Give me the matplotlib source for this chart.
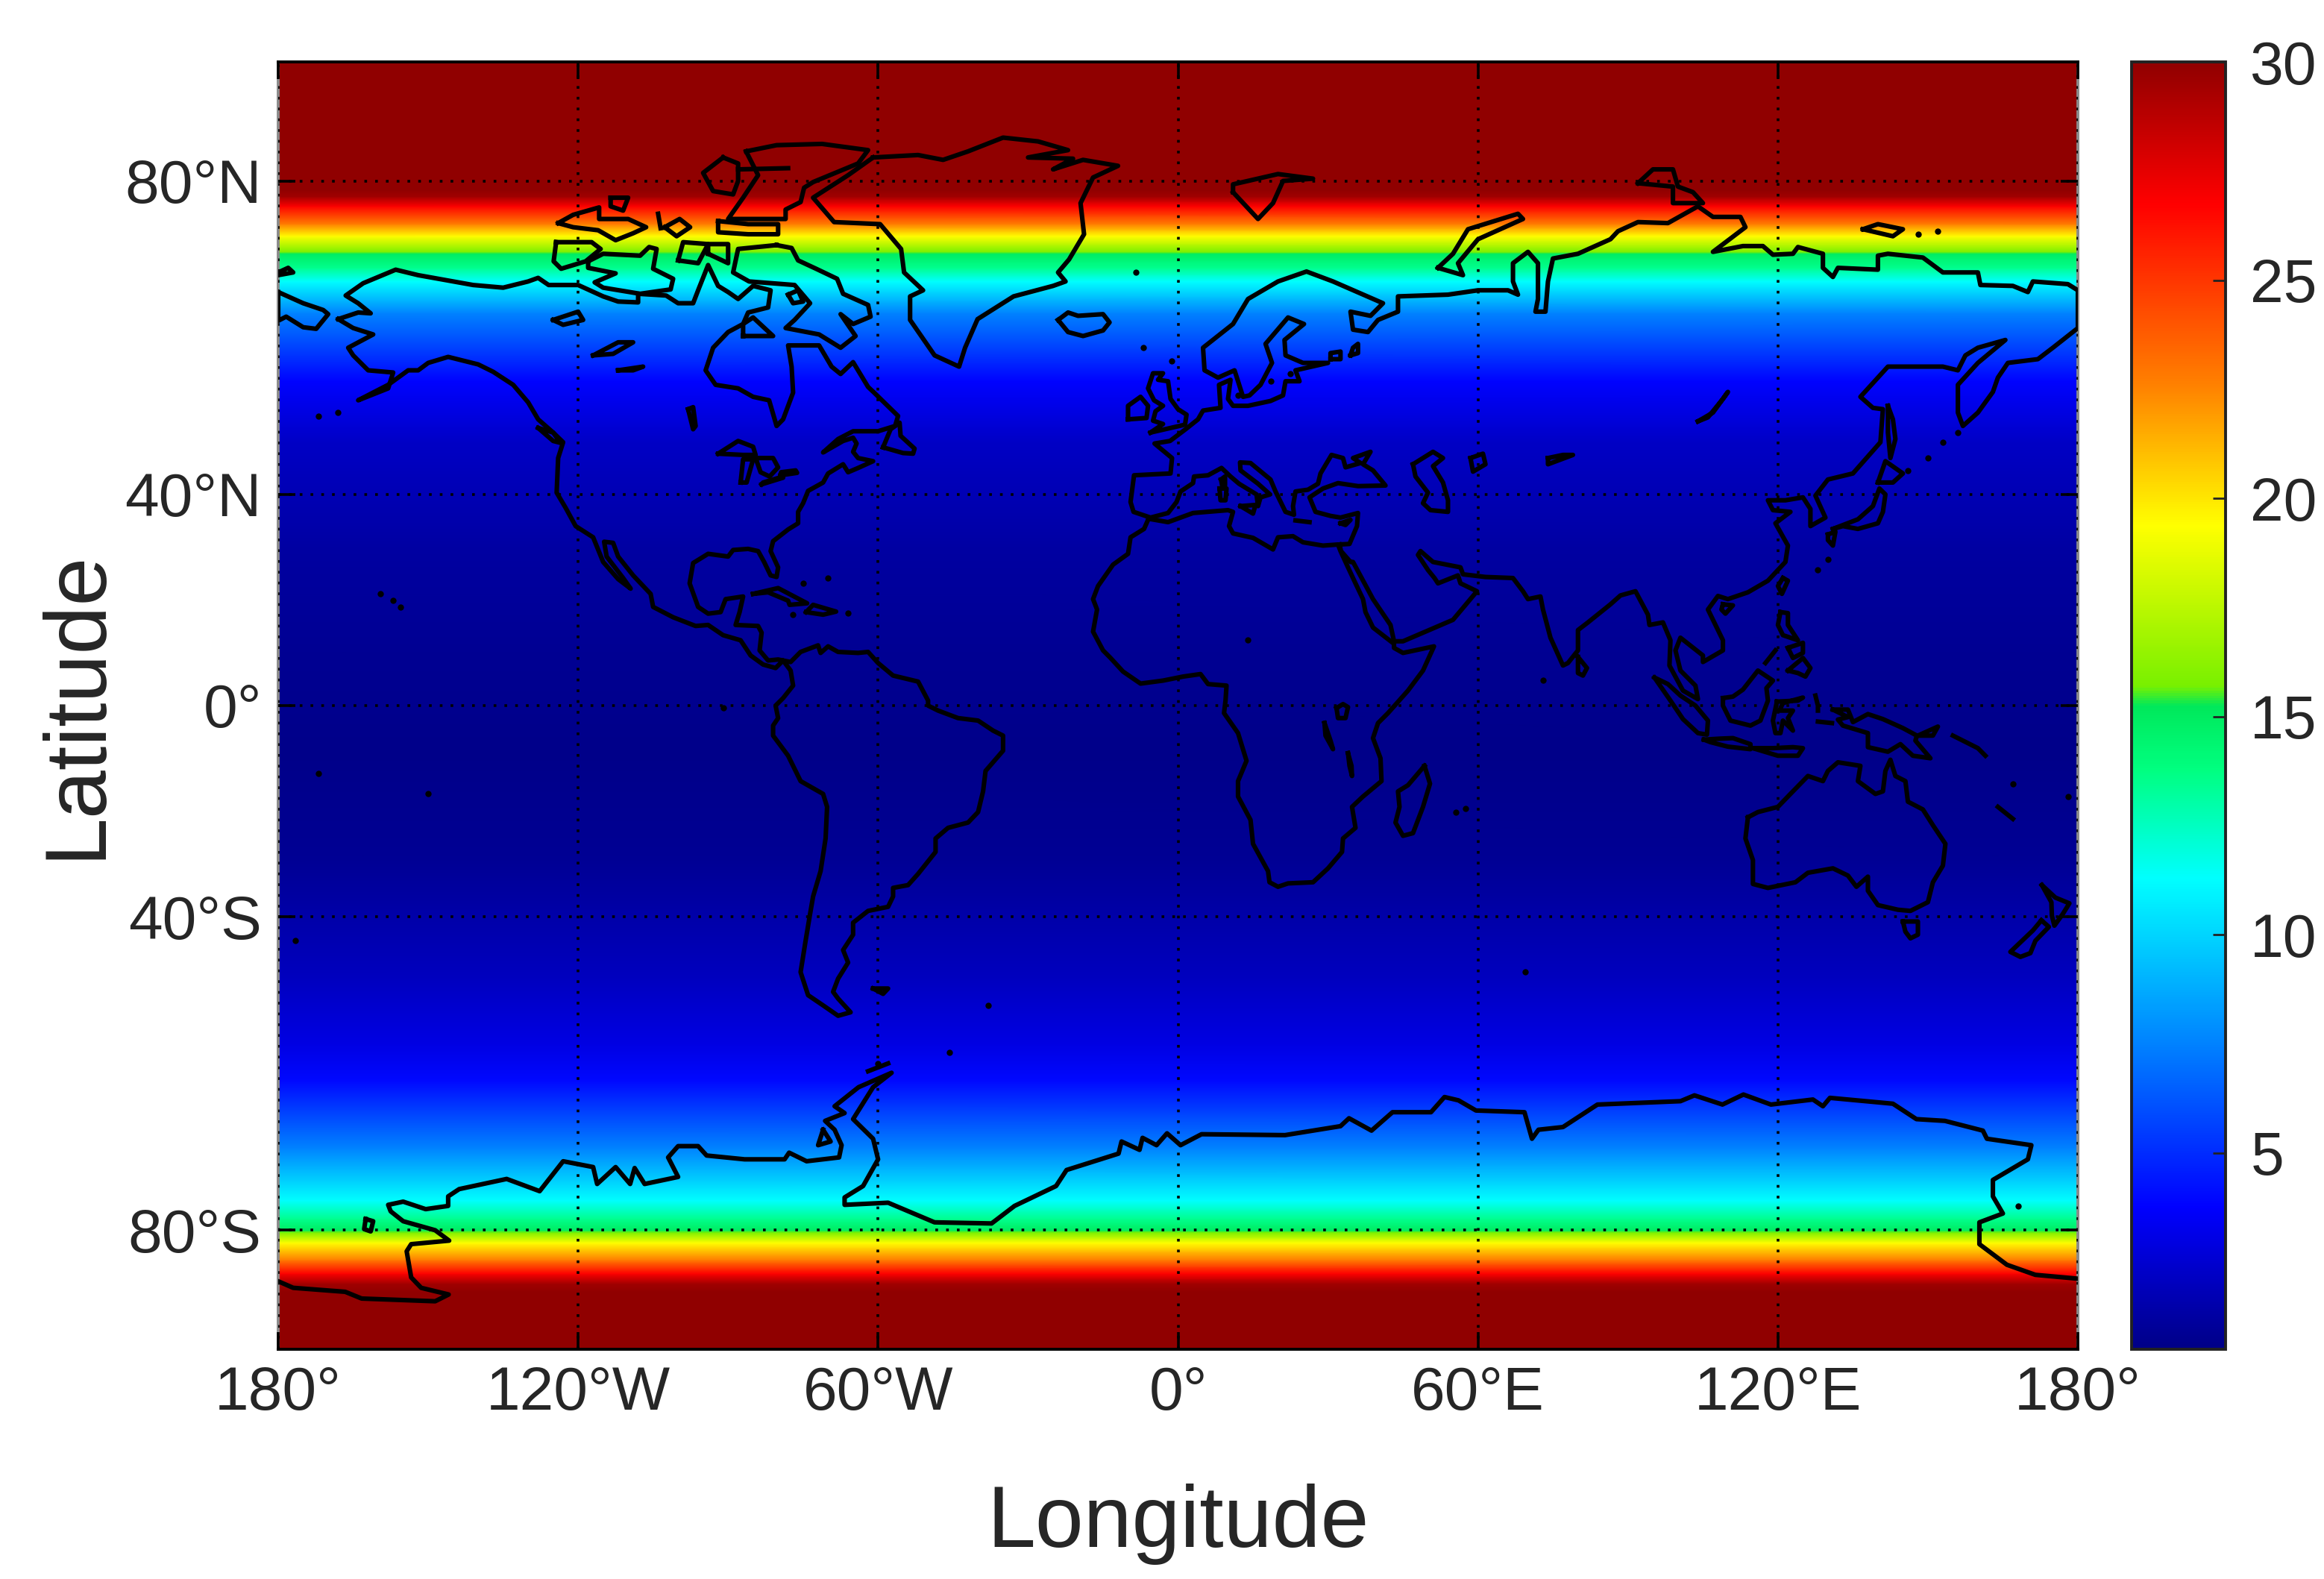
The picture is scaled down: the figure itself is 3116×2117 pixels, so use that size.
import numpy as np
import matplotlib
matplotlib.use('Agg')
import matplotlib.pyplot as plt
from matplotlib.colors import LinearSegmentedColormap

plt.rcParams['font.family'] = ['Liberation Sans', 'DejaVu Sans']

# value of the field against latitude
field_lat = [-89, -85, -84.4, -83.6, -82.5, -81.1, -80.2, -80.0, -79, -77.3, -72, -64.2, -59.5, -50, -30, -10,
             10, 30, 48.5, 57.5, 66.3, 70, 71.5, 73.0, 73.2, 74.8, 76, 77.7, 78.6, 79.2, 89]
field_val = [30, 30, 29.5, 26.8, 22.7, 19.4, 15.8, 15.0, 13.5, 11.3, 7.5, 4.0, 3.0, 2.0, 0.9, 0.6,
             0.8, 1.2, 2.2, 3.8, 7.5, 11.3, 13.5, 15.0, 15.8, 19.4, 22.7, 26.8, 29.5, 30, 30]

lon_ticks = [-180, -120, -60, 0, 60, 120, 180]
lon_labels = ['180°', '120°W', '60°W', '0°', '60°E', '120°E', '180°']
lat_ticks = [-80, -40, 0, 40, 80]
lat_labels = ['80°S', '40°S', '0°', '40°N', '80°N']
cbar_ticks = [5, 10, 15, 20, 25, 30]

americas = [(-168,65.6),(-164,66.4),(-161.5,66.3),(-164,67.5),(-166.5,68.4),(-163,69.8),(-156.5,71.3),(-152,70.7),
    (-146,70.1),(-141,69.6),(-135,69.3),(-130,70),(-128,70.4),(-125.9,69.6),(-120,69.6),(-115,68.3),(-112,67.7),(-108,67.6),
    (-108,68.6),(-102.4,68.4),(-100,67.5),(-97,67.5),(-96,69),(-94,71.8),(-92,69.5),(-90,68.8),(-88,68),(-85,69.5),(-81.5,69),(-82,67),
    (-86,66.4),(-87,65),(-90,64),(-93,62),(-94.5,59),(-92.5,57),(-88,56.5),(-85,55.3),(-81.8,54.8),(-80.3,51),(-79,52),(-77,55.9),
    (-77.3,59.5),(-78,62.3),(-71.8,62.3),(-69.3,59.5),(-67.5,58.5),(-65,60.1),(-62,56.7),(-60.8,55.9),(-56,52.5),(-56.6,51),
    (-60,50.2),(-65,50.2),(-68,49),(-71,46.9),(-67,48.7),(-65,49.2),
    (-64.3,48.3),(-65,47),(-64,46),(-61,45.5),(-64,44.4),(-66,43.7),(-67,45),(-70,43.5),(-71,42),(-74,40.6),(-75,38.5),
    (-76,37),(-76,35),(-78,33.9),(-81,31.8),(-81.5,30),(-80,27),(-80.3,25.2),(-81.5,25.5),(-82.8,28),(-84,30),(-86,30.4),
    (-89,30.2),(-90,29),(-94,29.5),(-97,27.8),(-97.7,24),(-96,19.5),(-94,18.2),(-91.5,18.5),(-90.5,21),(-87,21.5),
    (-87.7,18.5),(-88.5,16),(-84,15.8),(-83.3,14.5),(-83.7,11),(-82,9),(-80,9.2),(-77.5,8.7),(-75.5,10.7),(-72,12),
    (-71.5,10.5),(-70,11.8),(-68,10.7),(-64,10.5),(-62,10.7),(-60,8.5),(-57,6),(-52,4.8),(-50,1),(-50,0),(-48,-1),
    (-44,-2.5),(-40,-3),(-37,-5),(-35,-6),(-35,-9),(-38.5,-13),(-39,-17),(-40,-21),(-42,-23),(-46,-24),(-48.5,-26),
    (-48.5,-28.5),(-52,-32.5),(-54,-34.5),(-57,-35),(-57,-36.5),(-58,-38.3),(-62,-39),(-65,-41),(-65,-43),(-67,-45.5),
    (-66,-47.5),(-68,-50),(-69,-52),(-68,-53),(-65.5,-55),(-68,-55.5),(-71,-54),(-74,-52.5),(-75.5,-49),(-74.5,-44),
    (-73.7,-40),(-73,-36.5),(-71.5,-32),(-70.5,-26),(-70.2,-20),(-71,-17.5),(-75.5,-15),(-78,-10),(-81,-6),(-81,-4),
    (-80,-2.5),(-80.5,0),(-79,1.5),(-77,4),(-77.5,7),(-79,9),(-80.5,7.5),(-83,8.2),(-85.5,10),(-87.5,13),(-91,14),
    (-94,16),(-96.5,15.8),(-101,17.5),(-105,19.5),(-105.5,22),(-109,25.5),(-112,29),(-113,31.5),(-114.8,31.7),(-114.3,29),
    (-111,25),(-109.5,23),(-112,24.8),(-115,28),(-117,32.5),(-120.5,34.5),(-122.5,37.7),(-124.3,40.3),(-124,46),(-123,48.5),
    (-125,50),(-128,52),(-130,54.5),(-133,57),(-137,58.8),(-140,59.8),(-146,60.8),(-150,60),(-152,59),(-154,59),(-158,57),
    (-164,54.8),(-158,56.5),(-157,58.7),(-162,59),(-165,61),(-166,62),(-161,63.7),(-165,64.5),(-168,65.6)]

greenland = [(-61,82),(-52,82.2),(-47,81.8),(-42,82.5),(-35,83.6),(-28,83.3),(-22,82.6),(-30,82),(-21,81.9),(-25,81),
    (-19,81.8),(-12,81.3),(-17,80.3),(-19.5,78),(-18.8,75),(-21.8,72.4),(-24,71),(-22.5,70),(-25,69.5),(-32.9,68.3),
    (-40.1,65.6),(-42.6,62),(-43.8,59.5),(-48.7,61),(-53.6,65.5),(-53.6,68.3),(-51,69),(-54.8,71),(-55.4,73.5),(-59.6,76),
    (-68.8,76.2),(-73,78.5),(-66,80.5),(-61,82)]

africa = [(-5.9,35.8),(-2,35.2),(3,36.8),(10,37.3),(11,37),(10.2,34.5),(11,33.2),(15,32.4),(19,30.3),(20,32.5),(23,32.7),
    (25,31.6),(29,31),(32,31.2),(32.5,30),(34,27),(35.5,24),(37,21),(37.5,18.5),(39,15.5),(43.2,12.3),(43.2,11.5),
    (45,10.5),(51.2,11.8),(49,7),(46,3),(42,-1.5),(40,-3.5),(39,-6.5),(40.5,-10.5),(40.7,-15),(37,-18),(34.8,-20),
    (35.5,-24),(33,-26),(32.8,-28.5),(30,-31.5),(27,-34),(22,-34.2),(20,-34.8),(18.3,-34),(18,-32),(15,-27),(14.5,-22.5),
    (12,-18),(12,-15),(13.7,-11),(12,-5.5),(9.2,-1.5),(9.5,1),(9.7,4),(6,4.3),(4.5,6.3),(1,5.8),(-3,5),(-7.5,4.4),
    (-11,6.8),(-13.5,9.5),(-15,11),(-17,14.7),(-16.2,19),(-17,21),(-16,23.5),(-13,27.5),(-10,29.5),(-9.5,32.5),
    (-6.8,34),(-5.9,35.8)]

eurasia = [(32.3,31.2),(34.3,31.3),(35.8,34.5),(36,36.8),(32.5,36),(30.5,36.3),(27.5,37),(26.3,39.5),(29,41),(32,41.9),
    (36,41.4),(41.5,41.5),(39,44),(37,45),(38.5,47),(35,46),(36.5,45.2),(33.5,44.5),(33,46),(30.7,46.5),(28.5,43.5),
    (28,41.8),(26,40.8),(23.5,40.5),(23,38),(23.2,36.5),(21.5,37),(19.5,40.5),(18.5,42.5),(14.5,45.2),(12.4,45.3),
    (12.5,44),(16,41.8),(18.4,40),(16.5,39.5),(16,38),(15.7,40),(12.2,41.8),(10.5,43),(8.7,44.4),(6,43.2),(3.2,43),
    (3,41.9),(0.5,40.5),(-0.3,38.7),(-2,36.8),(-5.5,36),(-8.9,37),(-9.5,38.7),(-8.8,43.2),(-1.5,43.5),(-1.2,46),
    (-4.7,48.3),(-1.6,48.7),(1.5,50.5),(4,52),(5,53.3),(8.5,53.7),(8.2,57),(10.5,57.7),(10,55),(11,54),(14,54),
    (18.5,54.7),(21,55.5),(21.5,57.5),(24.3,57.5),(23.5,59),(30,60),(25,60),(21.5,61),(21.3,63),(25.2,65),(22,65.8),
    (17.5,62.5),(18.8,60),(16.5,57),(14.3,55.5),(13,55.3),(11.3,59),(8,58),(5.3,59),(5,62),(11,65),(14,68),(20,70),
    (25.7,71.1),(31,70),(41,67.5),(38.5,66),(34.5,66.5),(35,64.3),(38,64),(40,65.5),(44,66.5),(44,68.3),(54,68.5),
    (60,69),(66,69),(68,68.5),(67,70),(67,72),(70,73.2),(72,72),(72,68),(71.5,66.5),(73.5,66.5),(74,70),(75,72.5),
    (80,73),(86.5,74.5),(88,75.3),(92,76.2),(98,76.1),(104,77.7),(107,76.7),(112.5,76.7),(113.5,75.7),(107,73.2),
    (113,73.8),(117,73.8),(119,72.9),(123,73),(124,73.7),(129,73),(129,71.5),(131,70.5),(132,71.5),(140,71.3),(140,72.8),
    (142,73),(149,72.6),(153,71),(160,71),(160.5,69.6),(167,69.5),(170,68.8),(171,70),(178,69.7),(180,69),(180,64.5),
    (175,62),(172,60.5),(166,60),(164,58),(163,56),(160,53),(157,51),(156,53),(156,57),(160,60),(165.5,63),(160,62),
    (157.5,61),(156,59),(153,59.5),(142,59.5),(136.5,55.3),(139,53.7),(141,53.5),(140.5,48.5),(135,43.5),(130,42.5),
    (127.5,39.8),(129.5,36),(126.5,34.5),(126.5,37.5),(125,39.5),(121.5,39),(118,39),(119,37.3),(122.5,37),(119.5,35),
    (122,31),(121.5,28),(118,24.5),(114,22.3),(110,21),(108,21.6),(106,19),(109,13),(109,11),(105,8.7),(105,10),
    (100.5,13.5),(99.5,11),(100.5,7),(103.5,4),(104,1.3),(101,3),(98.3,8),(98.5,13),(97,16.5),(94.3,16),(94,18),
    (91.5,22.5),(88.5,21.7),(86.5,20),(82,16.5),(80,15),(80,11),(78,8.5),(77,8),(74.5,13.5),(73,19),(72.5,21.5),
    (70,21),(69,22.5),(67,25),(61.5,25.2),(57,25.7),(56.5,27),(51,28),(48.5,30),(48,29.3),(50,26.5),(51.3,25),(52,24),
    (56,25.5),(56.5,24),(59.8,22.5),(55,17),(45,12.8),(43.2,12.8),(42.5,16),(39,21),(35,28),(34.5,28),(32.6,30),(32.3,31.2)]

chukotka = [(-180,68.8),(-175,67.5),(-171,66.7),(-170,66.2),(-172.4,64.4),(-175,64.6),(-178.4,65.9),(-180,65.4),(-180,68.8)]

antarctica = [(-180,-84.2),(-177,-84.7),(-166.6,-85),(-163.3,-85.5),(-148.6,-85.7),(-145.9,-85.2),(-151.4,-84.7),
    (-153.4,-83.9),(-154.3,-81.8),(-153.4,-81.2),(-145.8,-80.9),(-148.6,-80),(-155,-79.2),(-157.5,-78.3),(-158,-77.7),
    (-155,-77.4),(-150.5,-78.1),(-146,-77.8),(-146,-76.9),(-143.8,-76.2),(-134.3,-75.2),(-127.7,-76.4),(-123,-73.4),
    (-117,-74),(-116.2,-75.7),(-112.5,-74),(-109.6,-75.7),(-108.7,-74.1),(-106.7,-75.7),(-100,-75),(-102,-73),(-100,-71.8),
    (-96,-71.8),(-94.3,-72.8),(-86.7,-73.2),(-78.7,-73.2),(-77.8,-72.5),(-74.3,-73.4),(-67.8,-73),(-67.3,-71.7),
    (-68.7,-70),(-70.6,-69),(-66.7,-68.1),(-68.7,-67.3),(-63.9,-65),(-57.3,-63.2),(-61,-65),(-65,-68.8),(-61,-71),
    (-60,-73.2),(-63,-75.9),(-66.7,-77),(-66.7,-77.7),(-58,-77.5),(-48.7,-79.3),(-37.3,-79.4),(-32.7,-77.8),(-24.4,-75.9),
    (-22.3,-74.3),(-11.9,-72.6),(-11.3,-71.3),(-7.7,-72.2),(-7.1,-70.9),(-4.3,-71.7),(-2.2,-70.4),(0.5,-71.7),(4.7,-70.5),
    (21.4,-70.6),(32.5,-69.6),(34.2,-68.7),(38.7,-70.1),(42.9,-68),(50.6,-68),(53.3,-66.2),(56.1,-66.6),(59.6,-67.8),
    (69.3,-68),(70.8,-71),(72.1,-70),(77,-69.7),(83.9,-67.1),(100.5,-66.7),(103.3,-66),(108.9,-67.1),(113.1,-65.9),
    (118.6,-67.1),(127,-66.5),(129,-67.3),(130.4,-66.3),(143,-67),(147.7,-68.8),(153.4,-69),(161,-70.1),(161.8,-71),
    (170.7,-71.7),(170,-73.2),(163,-75.3),(163,-76.9),(165,-78.5),(160.3,-79.3),(160.3,-81.2),(165.8,-82.9),(171.5,-83.7),
    (180,-84)]

australia = [(114,-22),(113.5,-26),(115,-30),(115,-34.3),(118,-35),(123.5,-34),(126,-32.3),(131,-31.5),(134,-32.8),
    (135.7,-34.8),(138,-33),(138,-35.5),(140,-38),(144,-38.8),(146.5,-39),(150,-37.5),(151,-34),(153,-31),(153.5,-27),
    (151,-23.5),(149,-20.5),(146,-19),(145.5,-15),(143.5,-14),(142.5,-10.8),(141.5,-13),(141,-17),(139.5,-17.5),
    (136,-15),(136.5,-12),(132,-11.3),(130,-13),(129,-15),(126,-14),(122.5,-17.5),(120,-20),(116,-21),(114,-22)]

# arctic and atlantic islands
baffin = [(-80.3,73.9),(-77.3,73.6),(-76,72.3),(-72.4,71.4),(-68.2,70.3),(-67,68.6),(-62,67.3),(-61.5,65.9),(-65,65),
          (-67.5,66.2),(-64.5,63.5),(-67.5,62),(-71.8,63.7),(-78.5,64.5),(-76.7,65.5),(-73.6,67.5),(-76.7,69.6),(-85.8,70),
          (-89,71),(-88,73.5),(-80.3,73.9)]
victoria = [(-118,72.2),(-115,73),(-107.6,72.8),(-105.8,73.7),(-104.3,73.5),(-105,71.4),(-101,70.3),(-101.5,69.1),(-107.6,68.6),
            (-115,69.3),(-116.7,69.9),(-112.5,70.9),(-118,71.5),(-118,72.2)]
banks = [(-124.4,74.2),(-117.3,74.2),(-115.5,73.5),(-118.5,72.2),(-123.4,71.4),(-124.9,72.2),(-124.4,74.2)]
melville = [(-124,76.1),(-121,76.9),(-115.8,77.6),(-115.8,76.5),(-110,76.5),(-106.4,75.7),(-109,75.1),(-112.5,74.4),(-116,75.4),
            (-121,75.7),(-124,76.1)]
patrick = [(-113.5,78.5),(-110,78.5),(-111,77.3),(-113.5,77.7),(-113.5,78.5)]
bathurst = [(-102.7,75.7),(-99.7,76.5),(-97.6,75.7),(-100.3,74.8),(-102.7,75.7)]
cornwallis = [(-104,77),(-103.5,75.6)]
devon = [(-92,76.3),(-86,76),(-80,76),(-80,75),(-86,75),(-92,75.2),(-92,76.3)]
ellesmere = [(-86.4,82.5),(-80.3,83),(-71.2,83.1),(-62,82.6),(-64,81.5),(-73,79.9),(-74.8,79.4),(-75.5,78.1),(-78.5,77.4),
             (-78.5,76.5),(-85,76.5),(-90,76.5),(-87,78.5),(-84,80.5),(-86.4,82.5)]
fjord = [(-88,81),(-78,81.1)]
axel = [(-91,82),(-95,80.7),(-93,79.1),(-89,78.8),(-88,80),(-88,81.5),(-91,82)]
wales = [(-100,72.3),(-96,72),(-94,74),(-99,74.2),(-100,72.3)]
somerset = [(-94,73),(-90,72),(-90,74),(-94,74),(-94,73)]
charles = [(-78,68.5),(-76,69),(-75,67.7),(-77,67.5),(-78,68.5)]
southampton = [(-87,63.5),(-81,63.5),(-85,65.8),(-87,65),(-87,63.5)]
newfoundland = [(-59,47.7),(-55,46.8),(-53,46.7),(-52.7,47.5),(-55.5,49.5),(-55.7,51.5),(-57.5,50.5),(-59,47.7)]
vancouver = [(-128,50.7),(-125,48.7),(-123.5,48.4),(-125,50),(-128,50.7)]
cuba = [(-85,22),(-80,23.1),(-74.2,20.2),(-77.7,19.9),(-78,20.7),(-82,22.3),(-85,22)]
hispaniola = [(-74.4,18.5),(-73,19.9),(-68.4,18.6),(-71,18),(-74.4,18.5)]
iceland = [(-24,65.5),(-22,64),(-19,63.5),(-15,64.2),(-13.7,65.2),(-15,66.2),(-20,66),(-22,66.4),(-24,65.5)]
britain = [(-5.5,50),(1.4,51.2),(1.7,52.7),(0,53.5),(-1.5,55),(-2,57.5),(-4,57.7),(-3,58.6),(-5,58.6),(-6,56.5),(-4.8,54.8),
           (-3,54),(-4.5,53.2),(-5,51.8),(-3,51.3),(-5.5,50)]
ireland = [(-10,52),(-6.3,52.2),(-6,54),(-7.5,55.3),(-10,54),(-10,52)]
svalbard = [(11,79),(16,76.5),(19,78),(21,80),(27,80.2),(20,80.6),(11,79.7),(11,79)]
novaya = [(52,71.5),(55,73),(58,75.5),(68,77),(69,76.5),(60,74.5),(56,72),(57,70.7),(52,71.5)]
severnaya = [(92,79.8),(95,81),(99,81),(100,79.5),(103,79),(105,78),(99,78),(99,79.5),(92,79.8)]
siberian = [(137,75.5),(140,76),(145,75.5),(143,74.8),(137,75.5)]
wrangel = [(-180,71),(-178,71.5),(-177,71),(-180,70.7)]

# asia and pacific islands
sakhalin = [(142,54),(143,52),(143.5,49),(142.5,46),(142,50),(142,54)]
hokkaido = [(140,42),(141.5,45.5),(145,43.5),(143,42),(140,42)]
honshu = [(131,34),(136,35.7),(139,38),(140.3,41),(141.5,40),(141,37),(140,35),(136,34),(133,34.5),(131,34)]
kyushu = [(130,33),(131.5,33.5),(131,31),(130,32),(130,33)]
taiwan = [(121,25),(122,24.5),(120.8,22),(120,23.5),(121,25)]
hainan = [(109,20),(111,19.8),(109.5,18.2),(108.7,19),(109,20)]
luzon = [(120.5,18.5),(122,18.3),(122,16),(124,13),(121,14),(120,16),(120.5,18.5)]
visayas = [(122,11.5),(125,12.5),(125,10.5),(123,9.5),(122,11.5)]
mindanao = [(122,7),(125,9.5),(126.5,7.5),(125.5,5.8),(124,6.5),(122,7)]
palawan = [(117.5,8.5),(119.5,11)]
borneo = [(109,1.5),(111,1.8),(113,3.2),(116,7),(119,5),(117.7,3.5),(118,1),(116.5,-3),(114.5,-4),(110.5,-3),(109,0),(109,1.5)]
sumatra = [(95.3,5.6),(98,4.3),(100.5,2),(103.5,0),(106,-3),(105.8,-5.8),(104,-5.5),(101,-2.7),(98.5,1),(95.3,5.6)]
java = [(105.2,-6.8),(108.5,-6.6),(111,-6.5),(114.5,-7.7),(114.5,-8.7),(110,-8.2),(106.5,-7.3),(105.2,-6.8)]
sunda = [(115,-8.5),(119,-8.5),(123,-8.3),(125,-8.5),(124,-10),(120,-10),(115,-8.5)]
sulawesi = [(119.8,0.8),(124,1),(125,1.6),(121,0.5),(120.3,-1),(123,-1),(122,-2.5),(123,-5),(121,-3),(120.5,-5.5),(119.5,-5.5),
            (119,-3),(119.8,0.8)]
guinea = [(131,-0.8),(134,-0.8),(135,-3.3),(138,-1.7),(141,-2.7),(145,-4.5),(147.8,-6),(147.5,-7),(150.5,-10.5),(147,-10),
          (144.5,-7.7),(142,-9.2),(138,-8.3),(138,-5.5),(133,-4),(132,-2.8),(134,-2.3),(131,-0.8)]
britain_new = [(148,-6),(152,-4.2),(151,-6),(148,-6)]
solomons = [(155,-6),(157,-7),(160,-8.5),(161.5,-10)]
caledonia = [(164,-20),(167,-22.3)]
halmahera = [(127.5,2),(128,0),(128,-1)]
seram = [(128,-3.2),(130.8,-3.5)]
tasmania = [(145,-40.8),(148,-40.8),(148,-43),(146.5,-43.6),(145.5,-42.5),(145,-40.8)]
nz_north = [(172.8,-34.5),(175.5,-36.7),(178.3,-37.7),(177,-39.5),(175.3,-41.5),(174.8,-39.8),(174.7,-37.5),(172.8,-34.5)]
nz_south = [(172.7,-40.6),(174.2,-41.7),(171.5,-44),(170.5,-46),(168.5,-46.6),(166.5,-45.8),(171,-42.3),(172.7,-40.6)]
sri_lanka = [(80,9.7),(81.8,7.5),(81,6),(80,6.5),(80,9.7)]
madagascar = [(49.3,-12),(50.4,-15.5),(49,-20),(47,-25),(45,-25.5),(43.5,-23),(44.3,-20),(44,-17),(46,-15.8),(49.3,-12)]
sicily = [(12.5,38),(15.5,38.2),(15,36.7),(12.5,38)]
sardinia = [(8.3,41),(9.7,41),(9.5,39),(8.5,39),(8.3,41)]
corsica = [(8.6,42.5),(9.4,43),(9.4,41.5),(8.8,41.6),(8.6,42.5)]
crete = [(23.5,35.5),(26.3,35.2)]
cyprus = [(32.5,35),(34.5,35.6),(33.5,34.7),(32.5,35)]
falkland = [(-61,-51.5),(-58,-51.5),(-59,-52.3),(-61,-51.5)]
roosevelt = [(-162.5,-79),(-161,-79.2),(-161.5,-80.1),(-162.8,-79.9),(-162.5,-79)]
alexander = [(-71,-70),(-72,-71.7),(-69.5,-71.3),(-71,-70)]
shetland = [(-62,-63),(-58,-62)]

# lakes
great_bear = [(-125,65.5),(-120,66.5),(-119,65.5),(-123,64.9),(-125,65.5)]
great_slave = [(-117,61),(-112,62.7),(-109,62.7),(-113,61.2),(-117,61)]
athabasca = [(-112,59),(-107,59.5),(-109,59),(-112,59)]
winnipeg = [(-98,53.5),(-97,50.5),(-96.5,51),(-97,53.8),(-98,53.5)]
superior = [(-92,46.7),(-88,48.7),(-85,47.8),(-84.5,46.5),(-87,46.5),(-92,46.7)]
michigan = [(-87.5,42),(-87,45.8),(-85,45.8),(-86.3,42),(-87.5,42)]
huron = [(-84.5,46),(-81,46),(-80,44.5),(-81.7,43),(-83.5,43.7),(-84.5,46)]
erie = [(-83.3,41.7),(-79,42.8),(-79,43),(-83,42),(-83.3,41.7)]
ontario = [(-79.5,43.2),(-76.2,43.6),(-76.5,44),(-79.4,43.7),(-79.5,43.2)]
victoria_lake = [(31.7,-0.5),(33,0.3),(34,-0.3),(33.5,-2.5),(32,-2.5),(31.7,-0.5)]
tanganyika = [(29.3,-3.5),(29.5,-6),(31,-8.7),(30.5,-7),(29.3,-3.5)]
malawi = [(34,-9.5),(34.7,-12),(34.8,-14),(34.3,-12),(34,-9.5)]
caspian = [(47,45),(51,47),(53,46),(51,44.7),(53,42),(54,39),(54,37),(50.5,37.3),(49,38.5),(50,40.3),(47.5,43),(47,45)]
aral = [(58.5,46),(61,46.7),(61.5,45),(59,43.8),(58.5,46)]
balkhash = [(74,46),(77,46.5),(79,46.5),(74,45),(74,46)]
baikal = [(104,51.7),(107,53),(110,56),(109,55),(106,52.3),(104,51.7)]
ladoga = [(30.5,60.5),(32.5,60.5),(32.5,61.5),(30.5,61.3),(30.5,60.5)]
onega = [(34.5,61),(36,61.3),(36,62.5),(35,62),(34.5,61)]

coast_lines = [americas, greenland, africa, eurasia, chukotka, antarctica, australia, baffin, victoria, banks, melville, patrick,
               bathurst, cornwallis, devon, ellesmere, fjord, axel, wales, somerset, charles, southampton, newfoundland, vancouver,
               cuba, hispaniola, iceland, britain, ireland, svalbard, novaya, severnaya, siberian, wrangel, sakhalin, hokkaido,
               honshu, kyushu, taiwan, hainan, luzon, visayas, mindanao, palawan, borneo, sumatra, java, sunda, sulawesi, guinea,
               britain_new, solomons, caledonia, halmahera, seram, tasmania, nz_north, nz_south, sri_lanka, madagascar, sicily,
               sardinia, corsica, crete, cyprus, falkland, roosevelt, alexander, shetland, great_bear, great_slave, athabasca,
               winnipeg, superior, michigan, huron, erie, ontario, victoria_lake, tanganyika, malawi, caspian, aral, balkhash,
               baikal, ladoga, onega]

# tiny islands that only show as a dot
dot_lon = [-155.5, -157, -159.5, -172, -150, -176.5, -91, -7, -1.2, -8.5, 148, 152, -172, -168, 168, -45.7, -60, -70, -77,
           -66, -75, 55.5, 57.5, 146, 150, 153, 156, 128, 130, 167, 178, 14, 73, 18.5, 22.5, 12, -38, 69.5]
dot_lat = [19.5, 20.8, 22, -13.5, -17.5, -44, -0.5, 62, 60.3, 71, 75, 75.3, 52.5, 53, -77.8, -60.6, -62, 25, 18, 18.3, 24,
           -21, -20.3, 44, 46, 48.5, 50, 26.5, 28.5, -15.5, -18, 13, 5, 57.5, 58.5, 55.5, -54, -49]

cmap_pos = [0, 0.11, 0.235, 0.365, 0.45, 0.5, 0.515, 0.64, 0.75, 0.89, 1]
cmap_col = ['#000087', '#0000FF', '#0080FF', '#00FFFF', '#00FF80', '#00E85A', '#78F000', '#FFFF00', '#FF8000', '#FF0000', '#900000']
jet_like = LinearSegmentedColormap.from_list('jet_like', list(zip(cmap_pos, cmap_col)), N=512)


def miller(lat):
    rad = np.radians(np.asarray(lat, dtype=float))
    return 1.25 * np.log(np.tan(np.pi / 4 + 0.4 * rad))


def miller_inv(y):
    y = np.asarray(y, dtype=float)
    return np.degrees((np.arctan(np.exp(y / 1.25)) - np.pi / 4) / 0.4)


W, H = 3116, 2117
fig = plt.figure(figsize=(W / 200, H / 200), dpi=200)
ax = fig.add_axes([373 / W, 1 - 1809 / H, (2786 - 373) / W, (1809 - 83) / H])
cax = fig.add_axes([2858 / W, 1 - 1809 / H, (2984 - 2858) / W, (1809 - 83) / H])

vals = np.column_stack([field_val, field_val])
mesh = ax.pcolormesh([-180, 180], field_lat, vals, shading='gouraud', cmap=jet_like, vmin=0.5, vmax=30, zorder=1)
ax.set_yscale('function', functions=(miller, miller_inv))

for line in coast_lines:
    lon, lat = zip(*line)
    ax.plot(lon, lat, color='black', lw=2.2, solid_joinstyle='round', zorder=3)
ax.plot(dot_lon, dot_lat, ls='none', marker='o', ms=3, color='black', mew=0, zorder=3)

ax.set_xlim(-180, 180)
ax.set_ylim(-89, 89)
ax.set_xticks(lon_ticks)
ax.set_xticklabels(lon_labels)
ax.set_yticks(lat_ticks)
ax.set_yticklabels(lat_labels)
ax.minorticks_off()
ax.grid(True, color='black', lw=1.3, ls=(0, (1, 3)), zorder=2)
ax.set_axisbelow(False)
ax.tick_params(axis='both', direction='in', length=8.3, width=1.3, top=True, right=True, labelsize=29.5,
               labelcolor='#262626', color='black')
ax.tick_params(axis='x', pad=8)
ax.tick_params(axis='y', pad=8)
for side in ['left', 'right']:
    ax.spines[side].set_color('#8a8a8a')
    ax.spines[side].set_linewidth(1.4)
for side in ['top', 'bottom']:
    ax.spines[side].set_color('black')
    ax.spines[side].set_linewidth(1.4)

fig.text(1580 / W, 1 - 2043 / H, 'Longitude', fontsize=42, color='#262626', ha='center', va='center')
fig.text(103 / W, 1 - 944 / H, 'Latitude', fontsize=42, color='#262626', ha='center', va='center', rotation=90)

cbar = fig.colorbar(mesh, cax=cax, ticks=cbar_ticks)
cbar.outline.set_edgecolor('#222222')
cbar.outline.set_linewidth(1.4)
cax.tick_params(axis='y', direction='in', length=6, width=1.0, pad=12, labelsize=29, labelcolor='#262626', color='#222222')
cax.minorticks_off()

fig.savefig('out.png', dpi=200)
